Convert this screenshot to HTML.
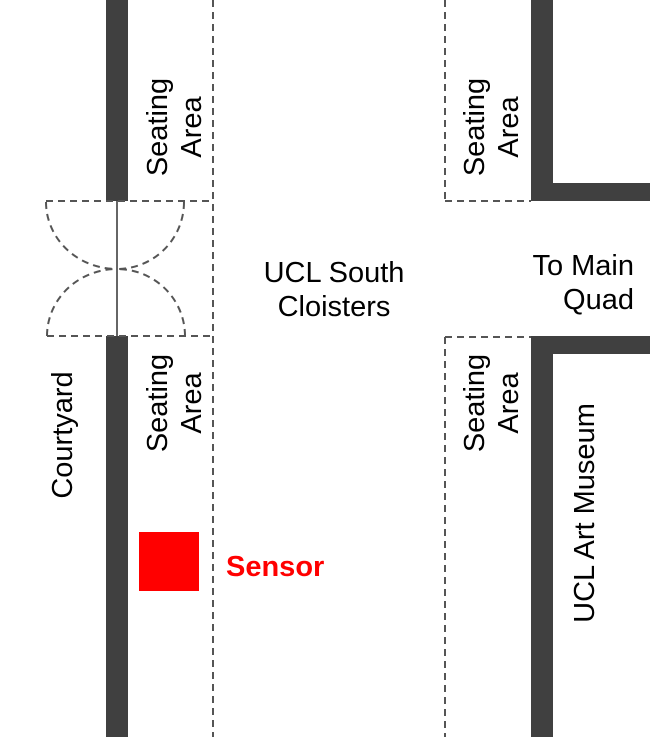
<!DOCTYPE html>
<html><head><meta charset="utf-8"><style>
html,body{margin:0;padding:0;background:#fff;}
svg{display:block;}
text{font-family:"Liberation Sans",Arial,sans-serif;font-size:29px;fill:#000;}
</style></head><body>
<svg width="653" height="737" viewBox="0 0 653 737">
<g fill="#404040">
<rect x="106" y="0" width="22" height="201"/>
<rect x="106" y="336" width="22" height="401"/>
<rect x="531" y="0" width="22" height="201"/>
<rect x="531" y="183" width="119" height="18"/>
<rect x="531" y="336" width="119" height="18"/>
<rect x="531" y="336" width="22" height="401"/>
</g>
<g stroke="#555" stroke-width="2" stroke-dasharray="7,5" fill="none">
<line x1="213" y1="0" x2="213" y2="737"/>
<line x1="445" y1="0" x2="445" y2="201"/>
<line x1="445" y1="337" x2="445" y2="737"/>
<line x1="46" y1="201" x2="213" y2="201"/>
<line x1="47" y1="336" x2="213" y2="336"/>
<line x1="445" y1="201" x2="531" y2="201"/>
<line x1="445" y1="337" x2="531" y2="337"/>
<path d="M46 202 A71 67 0 0 0 117 269" />
<path d="M184 202 A67 67 0 0 1 117 269" />
<path d="M47 336 A70 67 0 0 1 117 269" />
<path d="M185 336 A68 67 0 0 0 117 269" />
</g>
<line x1="117" y1="201" x2="117" y2="336" stroke="#333" stroke-width="1.5"/>
<g text-anchor="middle">
<text transform="translate(167,127) rotate(-90)"><tspan x="0" y="0">Seating</tspan><tspan x="0" y="34">Area</tspan></text>
<text transform="translate(167,403) rotate(-90)"><tspan x="0" y="0">Seating</tspan><tspan x="0" y="34">Area</tspan></text>
<text transform="translate(484,127) rotate(-90)"><tspan x="0" y="0">Seating</tspan><tspan x="0" y="34">Area</tspan></text>
<text transform="translate(484,403) rotate(-90)"><tspan x="0" y="0">Seating</tspan><tspan x="0" y="34">Area</tspan></text>
<text transform="translate(72,435) rotate(-90)">Courtyard</text>
<text transform="translate(594,513) rotate(-90)">UCL Art Museum</text>
<text><tspan x="334" y="282">UCL South</tspan><tspan x="334" y="316">Cloisters</tspan></text>
</g>
<text text-anchor="end"><tspan x="634" y="275">To Main</tspan><tspan x="634" y="309">Quad</tspan></text>
<rect x="139" y="532" width="60" height="59" fill="#ff0000"/>
<text x="226" y="576" style="fill:#ff0000;font-weight:bold;">Sensor</text>
</svg>
</body></html>
